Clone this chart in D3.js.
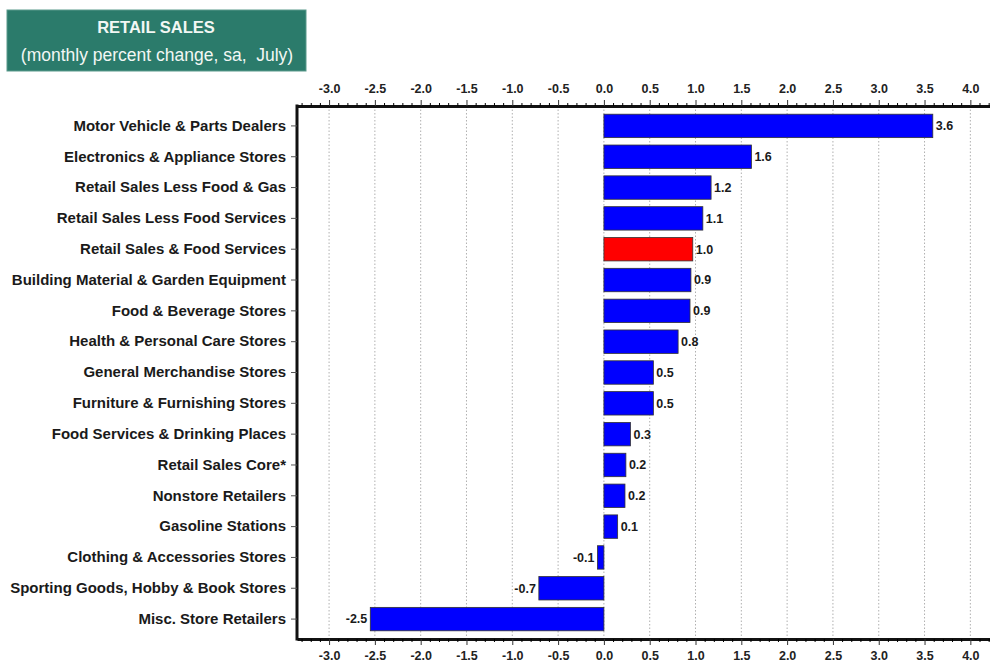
<!DOCTYPE html>
<html><head><meta charset="utf-8">
<script src="https://cdn.jsdelivr.net/npm/d3@7"></script>
<style>
body{margin:0;background:#fff;}
svg{display:block;font-family:"Liberation Sans",Arial,sans-serif;}
</style></head>
<body>
<svg id="c" width="990" height="664"></svg>
<script>
const categories = [
  "Motor Vehicle & Parts Dealers",
  "Electronics & Appliance Stores",
  "Retail Sales Less Food & Gas",
  "Retail Sales Less Food Services",
  "Retail Sales & Food Services",
  "Building Material & Garden Equipment",
  "Food & Beverage Stores",
  "Health & Personal Care Stores",
  "General Merchandise Stores",
  "Furniture & Furnishing Stores",
  "Food Services & Drinking Places",
  "Retail Sales Core*",
  "Nonstore Retailers",
  "Gasoline Stations",
  "Clothing & Accessories Stores",
  "Sporting Goods, Hobby & Book Stores",
  "Misc. Store Retailers"
];
const values = [3.59, 1.61, 1.17, 1.08, 0.97, 0.95, 0.94, 0.81, 0.54, 0.54, 0.29, 0.24, 0.23, 0.15, -0.07, -0.71, -2.55];
const labels = ["3.6","1.6","1.2","1.1","1.0","0.9","0.9","0.8","0.5","0.5","0.3","0.2","0.2","0.1","-0.1","-0.7","-2.5"];
const highlight = "Retail Sales & Food Services";
const tickValues = [-3.0,-2.5,-2.0,-1.5,-1.0,-0.5,0.0,0.5,1.0,1.5,2.0,2.5,3.0,3.5,4.0];
const titleLines = ["RETAIL SALES", "(monthly percent change, sa,  July)"];

const svg = d3.select("#c");
const L = 297, R = 996, T = 106, B = 639;
const x = d3.scaleLinear().domain([-3.35, 4.28]).range([L, R]);
const y = d3.scaleBand().domain(categories).range([110.5, 634.5]).paddingInner(0.24).paddingOuter(0.12);

// title box
const tb = svg.append("g");
tb.append("rect").attr("x", 7).attr("y", 10).attr("width", 299).attr("height", 61)
  .attr("fill", "#2b7b6b").attr("stroke", "#5a9a8c").attr("stroke-width", 1);
tb.append("text").attr("x", 156).attr("y", 33).attr("text-anchor", "middle")
  .attr("fill", "#f2f7f4").attr("font-size", 16.5).attr("font-weight", "bold").text(titleLines[0]);
tb.append("text").attr("x", 157).attr("y", 61).attr("text-anchor", "middle")
  .style("white-space", "pre")
  .attr("fill", "#f2f7f4").attr("font-size", 17.5).text(titleLines[1]);

// grid
const grid = svg.append("g");
grid.selectAll("line").data(tickValues).join("line")
  .attr("x1", d => x(d)).attr("x2", d => x(d)).attr("y1", T).attr("y2", B)
  .attr("stroke", "#b0b0b0").attr("stroke-width", 1).attr("stroke-dasharray", "1.5,2");

// minor ticks
const minor = d3.range(-33, 43).map(i => i / 10).filter(v => Math.abs(v*2 - Math.round(v*2)) > 1e-6);
const fmt = d => d.toFixed(1);

const topAx = svg.append("g").attr("transform", `translate(0,${T})`)
  .call(d3.axisTop(x).tickValues(tickValues).tickFormat(fmt).tickSize(6).tickSizeOuter(0));
const botAx = svg.append("g").attr("transform", `translate(0,${B})`)
  .call(d3.axisBottom(x).tickValues(tickValues).tickFormat(fmt).tickSize(6).tickSizeOuter(0));
svg.append("g").attr("transform", `translate(0,${T})`)
  .call(d3.axisTop(x).tickValues(minor).tickFormat("").tickSize(3).tickSizeOuter(0))
  .call(g => g.select(".domain").remove());
svg.append("g").attr("transform", `translate(0,${B})`)
  .call(d3.axisBottom(x).tickValues(minor).tickFormat("").tickSize(3).tickSizeOuter(0))
  .call(g => g.select(".domain").remove());
[topAx, botAx].forEach(g => {
  g.select(".domain").attr("stroke", "#111").attr("stroke-width", 3);
  g.selectAll(".tick line").attr("stroke", "#333");
  g.selectAll(".tick text").attr("font-size", 12.5).attr("font-weight", "bold").attr("fill", "#222");
});
topAx.selectAll(".tick text").attr("dy", "-0.35em");
botAx.selectAll(".tick text").attr("dy", "0.95em");

// left axis
const leftAx = svg.append("g").attr("transform", `translate(${L},0)`)
  .call(d3.axisLeft(y).tickSize(6).tickSizeOuter(0).tickPadding(5));
leftAx.select(".domain").attr("stroke", "#111").attr("stroke-width", 3)
  .attr("d", `M0,${T-1.5}V${B+1.5}`);
leftAx.selectAll(".tick line").attr("stroke", "#555");
leftAx.selectAll(".tick text").attr("font-size", 15).attr("font-weight", "bold").attr("fill", "#1a1a1a");

// bars
const data = categories.map((c, i) => ({c, v: values[i], l: labels[i]}));
svg.append("g").selectAll("rect").data(data).join("rect")
  .attr("x", d => x(Math.min(0, d.v)))
  .attr("width", d => Math.abs(x(d.v) - x(0)))
  .attr("y", d => y(d.c)).attr("height", y.bandwidth())
  .attr("fill", d => d.c === highlight ? "#ff0000" : "#0000ff")
  .attr("stroke", "#333").attr("stroke-width", 0.8);

svg.append("g").selectAll("text").data(data).join("text")
  .attr("x", d => d.v >= 0 ? x(d.v) + 3 : x(d.v) - 3)
  .attr("y", d => y(d.c) + y.bandwidth() / 2)
  .attr("dy", "0.35em")
  .attr("text-anchor", d => d.v >= 0 ? "start" : "end")
  .attr("font-size", 12.5).attr("font-weight", "bold").attr("fill", "#1a1a1a")
  .text(d => d.l);
</script>
</body></html>
